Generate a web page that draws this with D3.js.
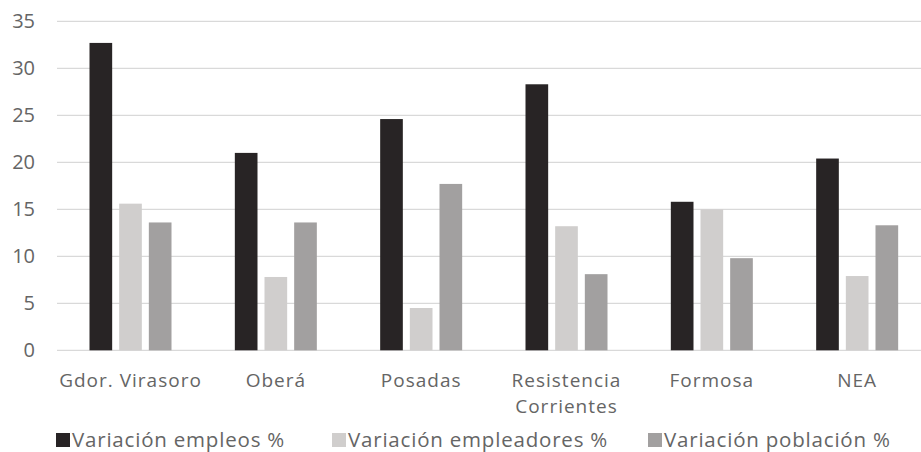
<!DOCTYPE html>
<html>
<head>
<meta charset="utf-8">
<script src="https://cdn.jsdelivr.net/npm/d3@7"></script>
<style>
  body { margin: 0; background: #fff; }
  svg { display: block; font-family: "Open Sans", sans-serif; }
</style>
</head>
<body>
<svg id="chart" width="921" height="452"></svg>
<script>
// categories and series
const categories = ['Gdor. Virasoro', 'Oberá', 'Posadas', 'Resistencia Corrientes', 'Formosa', 'NEA'];
const seriesNames = ['Variación empleos %', 'Variación empleadores %', 'Variación población %'];
const empleos = [32.7, 21.0, 24.6, 28.3, 15.8, 20.4];
const empleadores = [15.6, 7.8, 4.5, 13.2, 15.0, 7.9];
const poblacion = [13.6, 13.6, 17.7, 8.1, 9.8, 13.3];
const yTicks = [0, 5, 10, 15, 20, 25, 30, 35];

const colors = ['#282425', '#d0cecd', '#a2a0a0'];
const textColor = '#656565';

const svg = d3.select('#chart');

// scales
const x0 = d3.scaleBand()
    .domain(categories)
    .range([58, 930]);

const x1 = d3.scaleBand()
    .domain(seriesNames)
    .range([28, 117]);

const y = d3.scaleLinear()
    .domain([0, 35])
    .range([350.3, 21.3]);

const series = [empleos, empleadores, poblacion];

// gridlines
svg.append('g')
    .selectAll('line')
    .data(yTicks)
    .join('line')
    .attr('x1', 57)
    .attr('x2', 921)
    .attr('y1', d => y(d))
    .attr('y2', d => y(d))
    .attr('stroke', '#d9d9d9')
    .attr('stroke-width', 1.2);

// y axis labels
const yAxis = svg.append('g')
    .attr('transform', 'translate(35,0)')
    .call(d3.axisLeft(y).tickValues(yTicks).tickSize(0).tickPadding(0));
yAxis.select('.domain').remove();
yAxis.selectAll('text')
    .attr('fill', textColor)
    .attr('font-size', 20)
    .attr('font-family', '"Open Sans", sans-serif');

// bars
const groups = svg.append('g')
    .selectAll('g')
    .data(categories)
    .join('g')
    .attr('transform', d => 'translate(' + x0(d) + ',0)');

groups.selectAll('rect')
    .data((d, i) => seriesNames.map((s, j) => ({ key: s, value: series[j][i], color: colors[j] })))
    .join('rect')
    .attr('x', d => x1(d.key) + 3.5)
    .attr('width', x1.bandwidth() - 7)
    .attr('y', d => y(d.value))
    .attr('height', d => y(0) - y(d.value))
    .attr('fill', d => d.color);

// category labels
const labels = svg.append('g')
    .selectAll('text')
    .data(categories)
    .join('text')
    .attr('x', d => x0(d) + (x1.range()[0] + x1.range()[1]) / 2)
    .attr('y', 387)
    .attr('text-anchor', 'middle')
    .attr('fill', textColor)
    .attr('font-size', 19)
    .attr('letter-spacing', 1);

labels.each(function (d) {
    const parts = d === 'Resistencia Corrientes' ? ['Resistencia', 'Corrientes'] : [d];
    const t = d3.select(this);
    parts.forEach((p, k) => {
        t.append('tspan')
            .attr('x', t.attr('x'))
            .attr('dy', k === 0 ? 0 : 26)
            .text(p);
    });
});

// legend
const legendX = [56, 332, 648];
const legend = svg.append('g')
    .selectAll('g')
    .data(seriesNames)
    .join('g')
    .attr('transform', (d, i) => 'translate(' + legendX[i] + ',433)');

legend.append('rect')
    .attr('width', 14)
    .attr('height', 14)
    .attr('fill', (d, i) => colors[i]);

legend.append('text')
    .attr('x', 16)
    .attr('y', 14)
    .attr('fill', textColor)
    .attr('font-size', 20.5)
    .attr('letter-spacing', 0.8)
    .text(d => d);
</script>
</body>
</html>
